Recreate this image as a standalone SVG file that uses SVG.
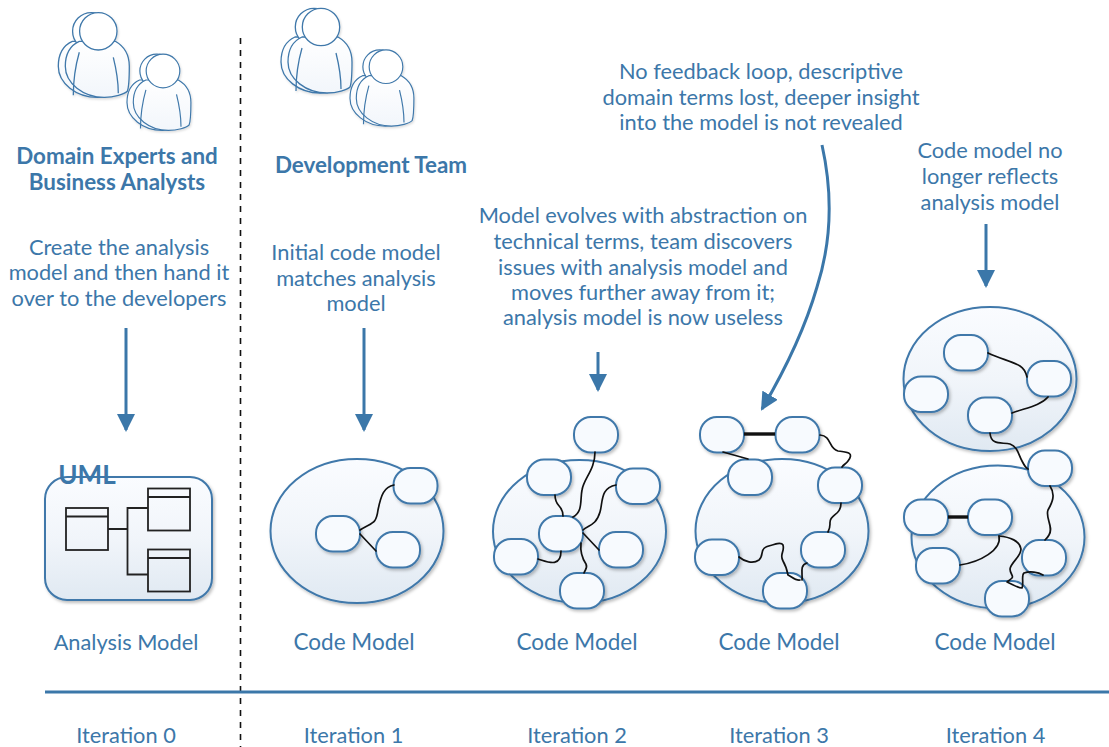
<svg xmlns="http://www.w3.org/2000/svg" width="1109" height="747" viewBox="0 0 1109 747">
<style>
text{font-family:Lato,"Open Sans","Liberation Sans",sans-serif;fill:#3c77a9;font-size:21.800px;text-anchor:middle}
.h{font-weight:700;font-size:22.400px}
.m{font-size:22.500px}
.c{fill:url(#g);stroke:#3f78aa;stroke-width:2;filter:url(#s)}
.n{fill:#f7fafe;stroke:#3f78aa;stroke-width:2;filter:url(#s)}
.k{fill:none;stroke:#111;stroke-width:1.7;stroke-linecap:round;stroke-linejoin:round}
.t{stroke-width:3.4;stroke-linecap:butt}
.a{fill:none;stroke:#3b77a9;stroke-width:3}
.u{fill:none;stroke:#222;stroke-width:1.8}
.p{fill:url(#g2);stroke:#3f78aa;stroke-width:1.3}
.q{fill:#fff;stroke:#3f78aa;stroke-width:1.3}
.pl{fill:none;stroke:#3f78aa;stroke-width:1.3}
</style>
<defs>
<linearGradient id="g" x1="0" y1="0" x2="0" y2="1"><stop offset="0" stop-color="#fafcff"/><stop offset="0.5" stop-color="#f1f5fa"/><stop offset="1" stop-color="#e0e9f2"/></linearGradient>
<linearGradient id="g2" x1="0" y1="0" x2="0" y2="1"><stop offset="0" stop-color="#ffffff"/><stop offset="1" stop-color="#f2f6fb"/></linearGradient>
<filter id="s" x="-15%" y="-15%" width="135%" height="135%"><feDropShadow dx="1.5" dy="2" stdDeviation="1.5" flood-color="#000" flood-opacity="0.25"/></filter>
<filter id="s2" x="-15%" y="-15%" width="135%" height="135%"><feDropShadow dx="1" dy="1.500" stdDeviation="1" flood-color="#000" flood-opacity="0.15"/></filter>
<marker id="ah" markerWidth="18" markerHeight="18" viewBox="0 0 18 18" refX="16" refY="9" orient="auto" markerUnits="userSpaceOnUse"><path d="M0,0L18,9L0,18Z" fill="#3b77a9"/></marker>
<g id="one">
<path class="p" d="M-19,10C-28,14-33,22-33,35C-33,52-15,66 6,66C16,66 26,63 29,60C31,55 31,45 31,35C31,22 24,14 17,10Z"/>
<circle class="q" cx="0" cy="0" r="18.700"/>
</g>
<g id="person" filter="url(#s2)">
<use href="#one" x="-7" y="0"/>
<use href="#one"/>
<path class="pl" d="M-19,21C-23,35-25,50-25,64"/>
<path class="pl" d="M15,26C18,38 20,50 20,62"/>
</g>
</defs>

<g id="divider"><line x1="240.500" y1="38" x2="240.500" y2="747" stroke="#111" stroke-width="1.600" stroke-dasharray="6 6"/></g>
<g id="baseline"><line x1="45" y1="692" x2="1109" y2="692" stroke="#3b77a9" stroke-width="3"/></g>

<g id="team-domain">
<use href="#person" transform="translate(98.300,31.300)"/>
<use href="#person" transform="translate(163,71) scale(0.9)"/>
<text class="h" x="117" y="164">Domain Experts and</text>
<text class="h" x="117" y="190">Business Analysts</text>
</g>
<g id="team-dev">
<use href="#person" transform="translate(321,27)"/>
<use href="#person" transform="translate(386,66.700) scale(0.9)"/>
<text class="h" x="371" y="173">Development Team</text>
</g>

<g id="notes">
<text x="119" y="255">Create the analysis</text>
<text x="119" y="280">model and then hand it</text>
<text x="119" y="306">over to the developers</text>
<text x="356" y="260">Initial code model</text>
<text x="356" y="286">matches analysis</text>
<text x="356" y="311">model</text>
<text x="643" y="223">Model evolves with abstraction on</text>
<text x="643" y="249">technical terms, team discovers</text>
<text x="643" y="275">issues with analysis model and</text>
<text x="643" y="300">moves further away from it;</text>
<text x="643" y="325">analysis model is now useless</text>
<text x="761" y="79">No feedback loop, descriptive</text>
<text x="761" y="105">domain terms lost, deeper insight</text>
<text x="761" y="130">into the model is not revealed</text>
<text x="990" y="158">Code model no</text>
<text x="990" y="184">longer reflects</text>
<text x="990" y="210">analysis model</text>
</g>

<g id="labels">
<text x="126" y="650">Analysis Model</text>
<text class="m" x="354" y="650">Code Model</text>
<text class="m" x="577" y="650">Code Model</text>
<text class="m" x="779" y="650">Code Model</text>
<text class="m" x="995" y="650">Code Model</text>
<text x="126" y="743">Iteration 0</text>
<text x="353.500" y="743">Iteration 1</text>
<text x="577" y="743">Iteration 2</text>
<text x="779" y="743">Iteration 3</text>
<text x="995.500" y="743">Iteration 4</text>
</g>

<g id="uml-box">
<rect x="45" y="477" width="167" height="123" rx="22" class="c"/>
<text x="87" y="484" style="font-size:26px;font-weight:700">UML</text>
<g class="u">
<rect x="66" y="508" width="42" height="42"/><line x1="66" y1="516.500" x2="108" y2="516.500"/>
<rect x="148" y="488.500" width="42" height="42"/><line x1="148" y1="497" x2="190" y2="497"/>
<rect x="148" y="549.500" width="42" height="42"/><line x1="148" y1="558" x2="190" y2="558"/>
<path d="M108,529H127.500M148,508H127.500V574.500H148"/>
</g>
</g>

<g id="containers">
<ellipse cx="357" cy="531" rx="86.500" ry="72" class="c"/>
<ellipse cx="579.500" cy="531.500" rx="86.500" ry="71.500" class="c"/>
<ellipse cx="782" cy="531" rx="86.500" ry="72" class="c"/>
<ellipse cx="990" cy="379" rx="86.500" ry="72" class="c"/>
<ellipse cx="998" cy="537" rx="86.500" ry="71.500" class="c"/>
</g>

<g id="n1a"><rect x="316" y="516" width="44" height="35.500" rx="17" class="n"/></g>
<g id="n1b"><rect x="393.500" y="468" width="44" height="35.500" rx="17" class="n"/></g>
<g id="n1c"><rect x="376" y="532" width="44" height="35.500" rx="17" class="n"/></g>

<g id="n2a"><rect x="574" y="417" width="44" height="35.500" rx="17" class="n"/></g>
<g id="n2b"><rect x="527" y="459.500" width="44" height="35.500" rx="17" class="n"/></g>
<g id="n2c"><rect x="616" y="468.500" width="44" height="35.500" rx="17" class="n"/></g>
<g id="n2d"><rect x="539" y="516" width="44" height="35.500" rx="17" class="n"/></g>
<g id="n2e"><rect x="494" y="539" width="44" height="35.500" rx="17" class="n"/></g>
<g id="n2f"><rect x="599" y="532" width="44" height="35.500" rx="17" class="n"/></g>
<g id="n2g"><rect x="560" y="573" width="44" height="35.500" rx="17" class="n"/></g>

<g id="n3a"><rect x="700" y="417" width="44" height="35.500" rx="17" class="n"/></g>
<g id="n3b"><rect x="775.500" y="417" width="44" height="35.500" rx="17" class="n"/></g>
<g id="n3c"><rect x="728" y="459.500" width="44" height="35.500" rx="17" class="n"/></g>
<g id="n3d"><rect x="818" y="467.500" width="44" height="35.500" rx="17" class="n"/></g>
<g id="n3e"><rect x="801" y="532" width="44" height="35.500" rx="17" class="n"/></g>
<g id="n3f"><rect x="695" y="539.500" width="44" height="35.500" rx="17" class="n"/></g>
<g id="n3g"><rect x="763" y="573" width="44" height="35.500" rx="17" class="n"/></g>

<g id="n4a"><rect x="944" y="335" width="44" height="35.500" rx="17" class="n"/></g>
<g id="n4b"><rect x="1027" y="361" width="44" height="35.500" rx="17" class="n"/></g>
<g id="n4c"><rect x="904" y="376.500" width="44" height="35.500" rx="17" class="n"/></g>
<g id="n4d"><rect x="968" y="397.500" width="44" height="35.500" rx="17" class="n"/></g>
<g id="n4e"><rect x="1028" y="450.500" width="44" height="35.500" rx="17" class="n"/></g>
<g id="n4f"><rect x="904" y="499.500" width="44" height="35.500" rx="17" class="n"/></g>
<g id="n4g"><rect x="968" y="499.500" width="44" height="35.500" rx="17" class="n"/></g>
<g id="n4h"><rect x="916" y="548" width="44" height="35.500" rx="17" class="n"/></g>
<g id="n4i"><rect x="1022" y="540" width="44" height="35.500" rx="17" class="n"/></g>
<g id="n4j"><rect x="985" y="581" width="44" height="35.500" rx="17" class="n"/></g>

<g id="connectors">
<g class="a">
<path d="M126,328V430" marker-end="url(#ah)"/>
<path d="M364,328V430" marker-end="url(#ah)"/>
<path d="M598,352V390" marker-end="url(#ah)"/>
<path d="M986,224V286" marker-end="url(#ah)"/>
<path d="M822,145C832,190 832,240 817,287C806,325 785,370 762,409" marker-end="url(#ah)"/>
</g>
<g class="k">
<path d="M360,530C372,522 376,525 378,510C381,495 384,487 394,485"/>
<path d="M360,534L376,551"/>
<path d="M595,452C595,470 584,478 582,490C580,500 583,512 573,517"/>
<path d="M555,495C555,508 563,504 563,516"/>
<path d="M616,485C600,488 603,502 600,512C596,526 588,525 583,530"/>
<path d="M583,533L599,550"/>
<path d="M538,559C548,562 561,568 561,551"/>
<path d="M581,543C580,552 582,558 586,564C588,568 585,570 584,573"/>
<path class="t" d="M744,434H775"/>
<path d="M723,452L748,459"/>
<path d="M820,435C832,436 828,448 838,451C846,452 855,452 848,461C846,464 844,464 842,467"/>
<path d="M841,503C841,516 829,514 830,524C830,528 829,530 828,532"/>
<path d="M739,557C745,562 753,564 759,560C764,556 760,549 766,547C772,545 781,541 783,545C785,552 779,554 783,561C786,566 787,570 788,575C792,577 796,581 800,580"/>
<path d="M807,563C799,565 803,575 802,580"/>
<path d="M988,353C1000,359 1012,361 1020,366C1025,369 1026,373 1027,377"/>
<path d="M1012,413C1025,408 1040,406 1048,397"/>
<path d="M990,433C991,446 1002,442 1010,444C1018,447 1018,454 1022,461C1024,465 1026,468 1028,469"/>
<path d="M1050,486C1056,495 1052,503 1048,510C1045,518 1054,527 1049,535C1048,537 1046,539 1045,540"/>
<path class="t" d="M948,517H968"/>
<path d="M960,565C980,562 1002,550 999,536"/>
<path d="M999,536C1010,537 1020,541 1021,549C1021,557 1011,562 1010,569C1010,574 1014,576 1012,578C1010,580 1008,581 1007,582C1012,584 1018,588 1022,588C1024,583 1021,575 1024,573C1030,571 1038,572 1043,575"/>
</g>
</g>
</svg>
